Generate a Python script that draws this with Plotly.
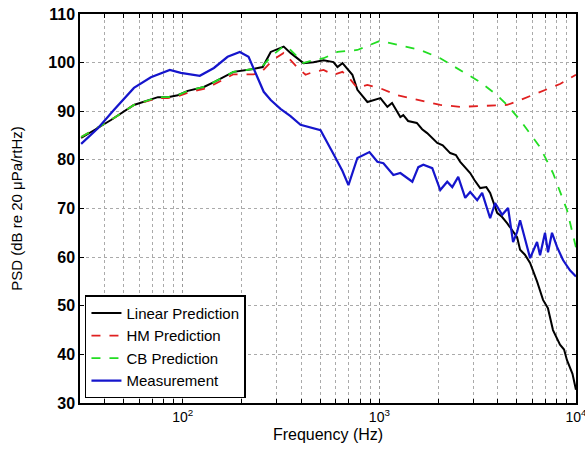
import plotly.graph_objects as go

# Linear Prediction (black)
lin_f = [30.4, 43.1, 56.4, 74.7, 83.9, 94.3, 106, 128, 144, 181, 229, 255, 280, 326, 353, 411, 462, 520, 584, 612, 649, 729, 773, 869, 1012, 1098, 1160, 1278, 1323, 1400, 1550, 1650, 1750, 1970, 2100, 2293, 2450, 2578, 2897, 3050, 3257, 3500, 3660, 3972, 4200, 4463, 5019, 5197, 5500, 5843, 6339, 6800, 7200, 7641, 8296, 8700, 9001, 9600, 10000]
lin_v = [84.5, 88.2, 91.3, 92.9, 92.9, 93.3, 94.2, 95.0, 96.0, 98.1, 98.7, 99.1, 102.2, 103.3, 102.0, 99.9, 100.1, 100.5, 100.1, 99.1, 99.9, 97.5, 94.4, 91.9, 92.7, 90.9, 91.7, 88.8, 89.2, 88.0, 87.6, 86.3, 85.5, 83.5, 83.0, 81.4, 81.0, 79.6, 77.3, 75.8, 74.2, 74.4, 73.2, 69.1, 68.3, 67.0, 64.1, 61.5, 60.5, 58.8, 55.0, 51.2, 49.5, 45.0, 42.0, 41.0, 38.8, 36.0, 32.7]

# HM Prediction (red dashed)
hm_f = [30.4, 43.1, 56.4, 74.7, 83.9, 94.3, 106, 128, 144, 181, 229, 249, 286, 326, 383, 421, 462, 520, 584, 649, 696, 773, 869, 1000, 1234, 1615, 2040, 2578, 3257, 4463, 5197, 6567, 8296, 10000]
hm_v = [84.7, 88.2, 91.3, 92.7, 92.7, 93.1, 93.8, 94.6, 95.5, 97.6, 97.6, 97.9, 100.5, 102.0, 99.0, 97.5, 98.1, 98.5, 97.5, 98.1, 97.0, 94.8, 95.4, 94.8, 93.3, 92.3, 91.3, 90.9, 91.1, 91.3, 92.3, 93.9, 95.6, 97.5]

# CB Prediction (green dashed)
cb_f = [30.4, 43.1, 56.4, 74.7, 83.9, 94.3, 106, 128, 144, 181, 229, 249, 286, 326, 353, 411, 462, 520, 612, 773, 1012, 1278, 1615, 2040, 2578, 3257, 3972, 4463, 5197, 6567, 7641, 9001, 10000]
cb_v = [84.7, 88.2, 91.3, 92.9, 92.9, 93.3, 94.2, 95.0, 96.0, 98.1, 98.7, 98.9, 101.5, 103.4, 102.6, 99.9, 100.5, 100.9, 102.2, 102.6, 104.5, 103.6, 102.6, 100.9, 98.5, 96.0, 93.3, 91.3, 88.2, 82.6, 77.3, 69.7, 62.0]

# Measurement (blue)
meas_f = [30.4, 37.0, 44.7, 56.4, 68.8, 85.9, 97.7, 122, 144, 169, 195, 216, 258, 280, 314, 353, 397, 462, 502, 584, 649, 696, 773, 890, 977, 1048, 1178, 1278, 1471, 1578, 1673, 1858, 2040, 2214, 2348, 2518, 2733, 2897, 3144, 3333, 3660, 3880, 4212, 4516, 4788, 5019, 5197, 5843, 6339, 6567, 6960, 7209, 7553, 8010, 8593, 9322, 10000]
meas_v = [83.3, 86.5, 90.3, 94.8, 97.0, 98.5, 97.9, 97.3, 98.9, 101.2, 102.2, 101.2, 94.0, 92.3, 90.5, 89.0, 87.2, 86.5, 86.1, 81.2, 77.7, 74.8, 80.4, 81.6, 79.6, 79.3, 76.9, 77.3, 75.5, 78.5, 79.0, 78.3, 73.8, 75.5, 74.4, 76.5, 72.2, 73.4, 71.7, 73.2, 68.0, 71.1, 68.7, 70.1, 63.1, 65.2, 67.6, 59.8, 63.1, 60.4, 65.0, 61.0, 65.0, 62.1, 59.4, 57.3, 56.0]

x_tickvals = [100, 1000, 10000]
x_ticktext = ["10<sup>2</sup>", "10<sup>3</sup>", "10<sup>4</sup>"]
x_minorvals = [30, 40, 50, 60, 70, 80, 90, 200, 300, 400, 500, 600, 700, 800, 900,
               2000, 3000, 4000, 5000, 6000, 7000, 8000, 9000]
y_tickvals = [30, 40, 50, 60, 70, 80, 90, 100, 110]

fig = go.Figure()
fig.add_trace(go.Scatter(x=lin_f, y=lin_v, mode="lines", name="Linear Prediction",
                         line=dict(color="black", width=2)))
fig.add_trace(go.Scatter(x=hm_f, y=hm_v, mode="lines", name="HM Prediction",
                         line=dict(color="#e02020", width=1.8, dash="dash")))
fig.add_trace(go.Scatter(x=cb_f, y=cb_v, mode="lines", name="CB Prediction",
                         line=dict(color="#22dd22", width=1.8, dash="dash")))
fig.add_trace(go.Scatter(x=meas_f, y=meas_v, mode="lines", name="Measurement",
                         line=dict(color="#1515cc", width=2.2)))

fig.update_layout(
    width=585, height=450,
    margin=dict(l=80, r=9, t=14, b=47),
    paper_bgcolor="white", plot_bgcolor="white",
    font=dict(family="Liberation Sans, Arial, sans-serif", size=13, color="black"),
    showlegend=True,
    legend=dict(x=0.01, y=0.012, xanchor="left", yanchor="bottom",
                bgcolor="white", bordercolor="black", borderwidth=1.5,
                font=dict(size=15), tracegroupgap=0),
    xaxis=dict(type="log", range=[1.477, 4.0002], tickvals=x_tickvals, ticktext=x_ticktext,
               ticklabeloverflow="allow", automargin=False,
               showgrid=True, gridcolor="#999999", griddash="dot", gridwidth=1,
               ticks="inside", ticklen=4, tickcolor="black",
               minor=dict(tickvals=x_minorvals, showgrid=True, gridcolor="#aaaaaa",
                          griddash="dot", gridwidth=1, ticks="inside", ticklen=4,
                          tickcolor="black"),
               showline=True, linecolor="black", linewidth=1.5, mirror="ticks",
               tickfont=dict(size=14), zeroline=False,
               title=dict(text="Frequency (Hz)", font=dict(size=16), standoff=5)),
    yaxis=dict(range=[30, 110], tickvals=y_tickvals, automargin=False,
               showgrid=True, gridcolor="#aaaaaa", griddash="dot", gridwidth=1,
               ticks="inside", ticklen=4, tickcolor="black",
               showline=True, linecolor="black", linewidth=1.5, mirror="ticks",
               tickfont=dict(size=16, weight="bold"), zeroline=False,
               title=dict(text="PSD (dB re 20 μPa/rtHz)", font=dict(size=15), standoff=22)),
)

fig.write_html("out.html")
